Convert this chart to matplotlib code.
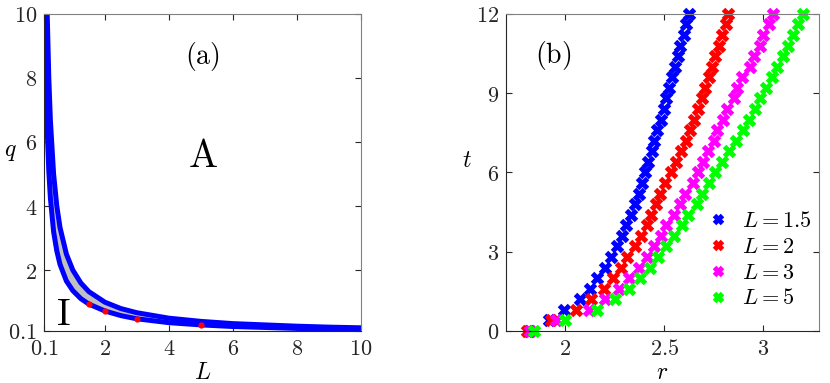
# Phase diagram (a) and r-t curves (b)

import numpy as np
import matplotlib.pyplot as plt
from matplotlib.ticker import FuncFormatter

plt.rcParams['mathtext.fontset'] = 'cm'
plt.rcParams['font.family'] = 'serif'
plt.rcParams['font.serif'] = ['DejaVu Serif']

# panel (a): boundaries of the band
L_band = [0.10, 0.12, 0.15, 0.20, 0.25, 0.30, 0.40, 0.50, 0.60, 0.80, 1.0,
          1.25, 1.5, 2.0, 2.5, 3.0, 4.0, 5.0, 6.0, 7.0, 8.0, 9.0, 10.0]
q_lower = [13.0, 10.8, 8.6, 6.4, 5.1, 4.25, 3.2, 2.6, 2.18, 1.66, 1.36,
           1.11, 0.94, 0.725, 0.58, 0.48, 0.36, 0.29, 0.24, 0.21, 0.18, 0.16, 0.145]
q_upper = [20.0, 16.7, 13.3, 10.0, 8.0, 6.67, 5.0, 4.0, 3.33, 2.5, 2.0,
           1.6, 1.33, 1.0, 0.8, 0.67, 0.5, 0.4, 0.33, 0.29, 0.25, 0.22, 0.2]
L_dots = [1.5, 2, 3, 5]
q_dots = [0.94, 0.725, 0.475, 0.29]

# panel (b)
t_vals = [0.0, 0.4, 0.8, 1.2, 1.6, 2.0, 2.4, 2.8, 3.2, 3.6, 4.0, 4.4, 4.8, 5.2,
          5.6, 6.0, 6.4, 6.8, 7.2, 7.6, 8.0, 8.4, 8.8, 9.2, 9.6, 10.0, 10.4,
          10.8, 11.2, 11.6, 12.0]
r_15 = [1.814, 1.916, 1.994, 2.072, 2.122, 2.16, 2.20, 2.23, 2.26, 2.285, 2.308,
        2.33, 2.353, 2.37, 2.387, 2.40, 2.418, 2.435, 2.448, 2.464, 2.482, 2.497,
        2.51, 2.525, 2.537, 2.552, 2.567, 2.578, 2.598, 2.61, 2.622]
r_2 = [1.807, 1.928, 2.054, 2.131, 2.193, 2.24, 2.281, 2.311, 2.35, 2.382, 2.412,
       2.432, 2.458, 2.48, 2.505, 2.535, 2.56, 2.585, 2.61, 2.63, 2.65, 2.67,
       2.688, 2.705, 2.724, 2.741, 2.758, 2.776, 2.792, 2.81, 2.822]
r_3 = [1.823, 1.955, 2.118, 2.20, 2.269, 2.32, 2.37, 2.412, 2.449, 2.482, 2.507,
       2.55, 2.58, 2.605, 2.644, 2.672, 2.697, 2.718, 2.748, 2.765, 2.798, 2.815,
       2.849, 2.866, 2.894, 2.933, 2.95, 2.983, 3.0, 3.03, 3.05]
r_5 = [1.84, 2.0, 2.16, 2.252, 2.32, 2.378, 2.425, 2.47, 2.507, 2.546, 2.588,
       2.62, 2.664, 2.689, 2.723, 2.756, 2.792, 2.828, 2.862, 2.895, 2.925, 2.955,
       2.985, 3.015, 3.043, 3.07, 3.098, 3.124, 3.15, 3.177, 3.202]
series = [(r_15, 'blue', r'$L=1.5$'), (r_2, 'red', r'$L=2$'),
          (r_3, 'magenta', r'$L=3$'), (r_5, 'lime', r'$L=5$')]

mfmt = FuncFormatter(lambda v, p: r'$%g$' % v)


def style(ax):
    ax.tick_params(direction='in', top=True, right=True, length=4,
                   labelsize=16, colors='#262626', pad=5)
    for s in ['top', 'right']:
        ax.spines[s].set_color('#808080')
    for s in ['left', 'bottom']:
        ax.spines[s].set_color('#262626')
    ax.xaxis.set_major_formatter(mfmt)
    ax.yaxis.set_major_formatter(mfmt)


fig = plt.figure(figsize=(8.3, 3.83), dpi=100)

ax1 = fig.add_axes([0.053, 0.1358, 0.382, 0.828])
ax1.fill_between(L_band, q_lower, q_upper, color='#c0c0c0', lw=0)
ax1.plot(L_band, q_lower, color='blue', lw=3.6)
ax1.plot(L_band, q_upper, color='blue', lw=3.6)
ax1.plot(L_dots, q_dots, 'o', color='red', ms=4.5, mec='none')
ax1.set_xlim(0.1, 10)
ax1.set_ylim(0.1, 10)
ax1.set_xticks([0.1, 2, 4, 6, 8, 10])
ax1.set_yticks([0.1, 2, 4, 6, 8, 10])
style(ax1)
ax1.set_xlabel(r'$L$', fontsize=17)
ax1.set_ylabel(r'$q$', fontsize=17, rotation=0)
ax1.xaxis.set_label_coords(0.5, -0.095)
ax1.yaxis.set_label_coords(-0.107, 0.53)
ax1.text(0.5, 0.864, r'$\mathrm{(a)}$', transform=ax1.transAxes, fontsize=20,
         ha='center', va='center')
ax1.text(0.5, 0.55, r'$\mathrm{A}$', transform=ax1.transAxes, fontsize=28,
         ha='center', va='center')
ax1.text(0.06, 0.05, r'$\mathrm{I}$', transform=ax1.transAxes, fontsize=27,
         ha='center', va='center')

ax2 = fig.add_axes([0.6096, 0.1358, 0.377, 0.828])
for r, c, lab in series:
    ax2.plot(r, t_vals, 'x', color=c, ms=7, mew=3.6, label=lab, clip_on=False)
ax2.set_xlim(1.7, 3.28)
ax2.set_ylim(0, 12)
ax2.set_xticks([2, 2.5, 3])
ax2.set_yticks([0, 3, 6, 9, 12])
style(ax2)
ax2.set_xlabel(r'$r$', fontsize=17)
ax2.set_ylabel(r'$t$', fontsize=17, rotation=0)
ax2.xaxis.set_label_coords(0.5, -0.095)
ax2.yaxis.set_label_coords(-0.125, 0.5)
ax2.text(0.15, 0.87, r'$\mathrm{(b)}$', transform=ax2.transAxes, fontsize=20,
         ha='center', va='center')
ax2.legend(loc='lower right', bbox_to_anchor=(1.04, 0.005), frameon=False,
           fontsize=16, handletextpad=0.5, labelspacing=0.17,
           markerscale=0.85, handlelength=1.2)

fig.savefig('out.png', dpi=100)
